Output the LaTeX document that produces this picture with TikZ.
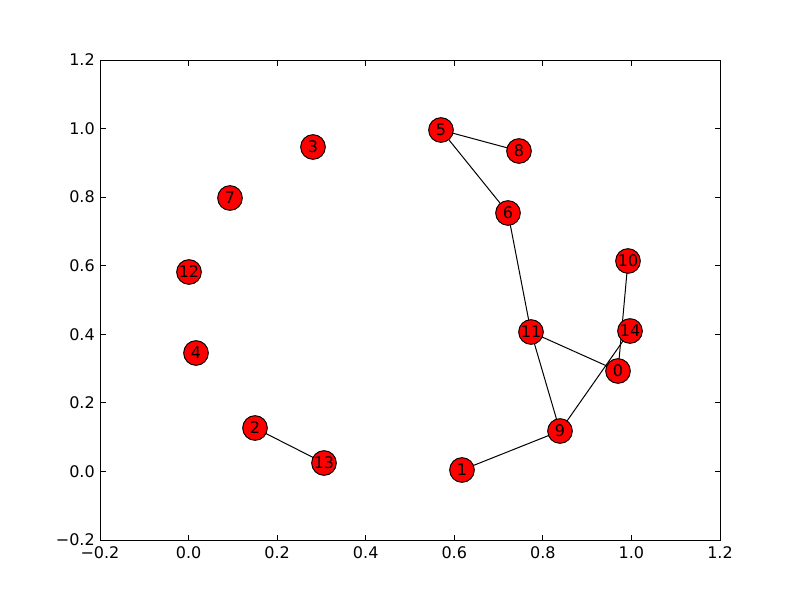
\documentclass[tikz,border=0pt]{standalone}
\usepackage{fontspec}
\setmainfont{DejaVu Sans}
\usetikzlibrary{backgrounds}
\begin{document}
\begin{tikzpicture}[x=0.75pt,y=-0.75pt,
  lbl/.style={font=\fontsize{12}{14}\selectfont,inner sep=0pt},
  vtx/.style={circle,draw=black,fill=red,line width=0.75pt,minimum size=18.5pt,inner sep=0pt,font=\fontsize{12}{14}\selectfont},
  edge/.style={draw=black,line width=0.75pt},
  frame/.style={draw=black,line width=0.75pt},
  tick/.style={draw=black,line width=0.6pt}]
\useasboundingbox (0,0) rectangle (800,600);
% axes frame
\draw[frame] (100,60) rectangle (720,540);
% ticks and labels
\foreach \i/\t in {0/{−0.2},1/{0.0},2/{0.2},3/{0.4},4/{0.6},5/{0.8},6/{1.0},7/{1.2}}{
  \pgfmathsetmacro{\xx}{100+88.571*\i}
  \pgfmathsetmacro{\yy}{540-68.571*\i}
  \draw[tick] (\xx,540) -- (\xx,534.5);
  \draw[tick] (\xx,60) -- (\xx,65.5);
  \draw[tick] (100,\yy) -- (105.5,\yy);
  \draw[tick] (720,\yy) -- (714.5,\yy);
  \node[lbl,anchor=north] (xl\i) at (\xx,546) {\t};
  \node[lbl,anchor=east] (yl\i) at (95,\yy) {\t};
}
% vertices
\node[vtx] (n0) at (618,371) {0};
\node[vtx] (n1) at (462,470) {1};
\node[vtx] (n2) at (255,428) {2};
\node[vtx] (n3) at (313,147) {3};
\node[vtx] (n4) at (196,353) {4};
\node[vtx] (n5) at (441,130) {5};
\node[vtx] (n6) at (508,213) {6};
\node[vtx] (n7) at (230,198) {7};
\node[vtx] (n8) at (519,151) {8};
\node[vtx] (n9) at (560,431) {9};
\node[vtx] (n10) at (628,261) {10};
\node[vtx] (n11) at (531,332) {11};
\node[vtx] (n12) at (189,272) {12};
\node[vtx] (n13) at (324,463) {13};
\node[vtx] (n14) at (630,331) {14};
% edges
\begin{scope}[on background layer]
\draw[edge] (n5.center) -- (n8.center);
\draw[edge] (n5.center) -- (n6.center);
\draw[edge] (n6.center) -- (n11.center);
\draw[edge] (n11.center) -- (n0.center);
\draw[edge] (n11.center) -- (n9.center);
\draw[edge] (n9.center) -- (n1.center);
\draw[edge] (n9.center) -- (n14.center);
\draw[edge] (n10.center) -- (n0.center);
\draw[edge] (n2.center) -- (n13.center);
\end{scope}
\end{tikzpicture}
\end{document}
